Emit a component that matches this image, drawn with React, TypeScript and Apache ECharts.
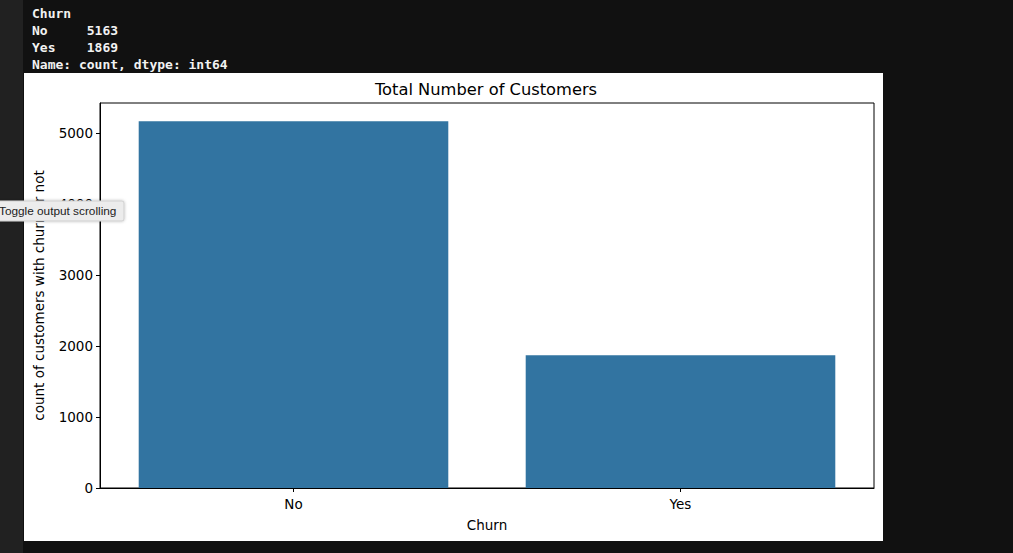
import React, { useEffect, useRef } from "react";
import * as echarts from "echarts";

const categories = ["No", "Yes"];
const counts = [5163, 1869];
const consoleLines = ["Churn", "No     5163", "Yes    1869", "Name: count, dtype: int64"];
const chartTitle = "Total Number of Customers";
const xName = "Churn";
const yName = "count of customers with churn or not";
const tipText = "Toggle output scrolling";

export default function App() {
  const ref = useRef<HTMLDivElement>(null);
  useEffect(() => {
    const chart = echarts.init(ref.current!, undefined, { renderer: "svg" });
    const font = "'DejaVu Sans', sans-serif";
    const yMax = Math.max(...counts) * 1.05;
    chart.setOption({
      animation: false,
      backgroundColor: "#111111",
      graphic: [
        { type: "rect", z: -10, shape: { x: 0, y: 0, width: 23, height: 553 }, style: { fill: "#212121" }, silent: true },
        { type: "rect", z: -10, shape: { x: 24, y: 73, width: 859, height: 468 }, style: { fill: "#ffffff" }, silent: true },
        ...consoleLines.map((t, i) => ({
          type: "text",
          x: 32,
          y: 13 + i * 17,
          style: {
            text: t,
            fill: "#f2f2f2",
            font: "bold 13px 'DejaVu Sans Mono', monospace",
            textVerticalAlign: "middle",
            textAlign: "left",
          },
        })),
        {
          type: "text",
          x: 486,
          y: 89,
          style: { text: chartTitle, fill: "#000", font: `16.3px ${font}`, textAlign: "center", textVerticalAlign: "middle" },
        },
        {
          type: "rect",
          z: 100,
          zlevel: 1,
          shape: { x: -3, y: 201, width: 127, height: 20, r: 2 },
          style: { fill: "#ececec", stroke: "#cfcfcf", lineWidth: 1, shadowBlur: 3, shadowColor: "rgba(0,0,0,0.25)" },
        },
        {
          type: "text",
          z: 101,
          zlevel: 1,
          x: -1,
          y: 211,
          style: { text: tipText, fill: "#222", font: "11.8px 'Liberation Sans', Arial, sans-serif", textAlign: "left", textVerticalAlign: "middle" },
        },
      ],
      grid: {
        left: 100,
        top: 103,
        width: 774,
        height: 385,
        show: true,
        borderColor: "#000",
        borderWidth: 1,
        backgroundColor: "transparent",
        containLabel: false,
      },
      xAxis: {
        type: "category",
        data: categories,
        name: xName,
        nameLocation: "middle",
        nameGap: 30,
        nameTextStyle: { fontFamily: font, fontSize: 13.5, color: "#000" },
        axisLine: { show: true, lineStyle: { color: "#000", width: 1 } },
        axisTick: { show: true, alignWithLabel: true, length: 4, lineStyle: { color: "#000" } },
        axisLabel: { fontFamily: font, fontSize: 13.5, color: "#000", margin: 9 },
        splitLine: { show: false },
      },
      yAxis: {
        type: "value",
        min: 0,
        max: yMax,
        interval: 1000,
        name: yName,
        nameLocation: "middle",
        nameGap: 54,
        nameTextStyle: { fontFamily: font, fontSize: 13.5, color: "#000" },
        axisLine: { show: true, lineStyle: { color: "#000", width: 1 } },
        axisTick: { show: true, length: 4, lineStyle: { color: "#000" } },
        axisLabel: {
          fontFamily: font,
          fontSize: 13.5,
          color: "#000",
          margin: 7,
          showMaxLabel: false,
          formatter: (v: number) => String(Math.round(v)),
        },
        splitLine: { show: false },
      },
      series: [
        {
          type: "bar",
          data: counts,
          barWidth: "80%",
          itemStyle: { color: "#3274a1" },
        },
      ],
    });
    return () => chart.dispose();
  }, []);
  return <div ref={ref} style={{ position: "fixed", left: 0, top: 0, width: 1013, height: 553 }} />;
}
